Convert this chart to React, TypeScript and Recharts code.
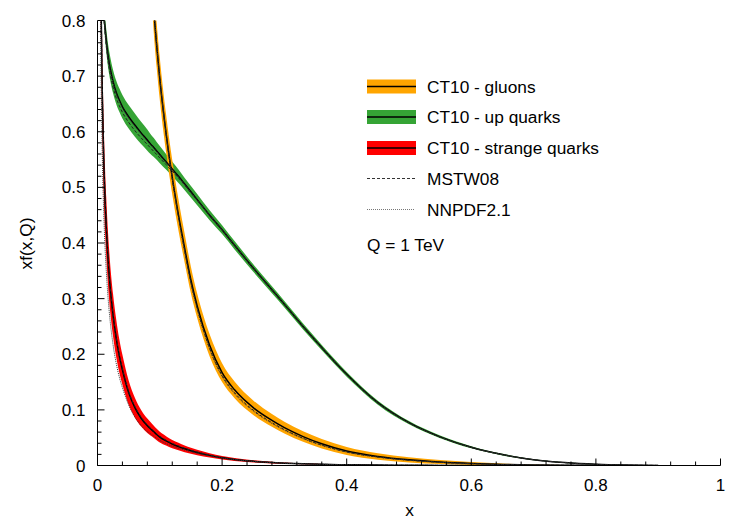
import React from 'react'
import { Area, ComposedChart, Line, XAxis, YAxis } from 'recharts'

// shared x grid
const xGrid = [
  0.004, 0.005, 0.006, 0.007, 0.008, 0.01, 0.012, 0.014, 0.016, 0.018,
  0.02, 0.025, 0.03, 0.035, 0.04, 0.05, 0.06, 0.07, 0.08, 0.085,
  0.09, 0.095, 0.1, 0.11, 0.12, 0.13, 0.14, 0.15, 0.16, 0.18,
  0.2, 0.22, 0.25, 0.28, 0.3, 0.33, 0.36, 0.4, 0.45, 0.5,
  0.55, 0.6, 0.65, 0.7, 0.75, 0.8, 0.85, 0.9,
]

const N = null

// gluons
const gluonCT10 = [
  N, N, N, N, N, N, N, N, N, N,
  N, N, N, N, N, N, N, N, N, 0.92,
  0.825, 0.755, 0.695, 0.598, 0.518, 0.45, 0.39, 0.333, 0.287, 0.216,
  0.167, 0.136, 0.104, 0.081, 0.068, 0.052, 0.039, 0.026, 0.0163, 0.0102,
  0.0062, 0.0036, 0.002, 0.001, 0.0005, 0.0002, N, N,
]
const gluonErr = [
  N, N, N, N, N, N, N, N, N, N,
  N, N, N, N, N, N, N, N, N, 0.045,
  0.042, 0.04, 0.038, 0.034, 0.031, 0.028, 0.026, 0.024, 0.022, 0.02,
  0.017, 0.015, 0.013, 0.0115, 0.0105, 0.0095, 0.0085, 0.0072, 0.0058, 0.0046,
  0.0035, 0.0026, 0.0017, 0.001, 0.0005, 0.0002, N, N,
]
const gluonMSTW = [
  N, N, N, N, N, N, N, N, N, N,
  N, N, N, N, N, N, N, N, N, 0.92,
  0.826, 0.756, 0.695, 0.597, 0.516, 0.447, 0.386, 0.329, 0.283, 0.211,
  0.162, 0.131, 0.0995, 0.077, 0.0645, 0.049, 0.0366, 0.0243, 0.0152, 0.0095,
  0.0057, 0.0033, 0.0018, 0.0009, 0.0004, 0.0002, N, N,
]
const gluonNNPDF = [
  N, N, N, N, N, N, N, N, N, N,
  N, N, N, N, N, N, N, N, N, 0.925,
  0.83, 0.758, 0.697, 0.598, 0.516, 0.446, 0.384, 0.327, 0.281, 0.209,
  0.16, 0.129, 0.098, 0.0757, 0.0635, 0.0483, 0.0362, 0.0241, 0.0151, 0.0094,
  0.0057, 0.0033, 0.0018, 0.0009, 0.0004, 0.0002, N, N,
]

// up quarks
const upCT10 = [
  N, N, N, 0.87, 0.84, 0.815, 0.788, 0.765, 0.745, 0.729,
  0.716, 0.69, 0.671, 0.657, 0.645, 0.627, 0.612, 0.598, 0.585, 0.578,
  0.572, 0.5655, 0.559, 0.546, 0.533, 0.52, 0.506, 0.492, 0.478, 0.45,
  0.424, 0.396, 0.355, 0.316, 0.29, 0.25, 0.212, 0.164, 0.113, 0.077,
  0.0515, 0.0328, 0.0196, 0.0105, 0.0052, 0.0022, 0.0008, 0.0002,
]
const upErr = [
  N, N, N, 0.016, 0.017, 0.018, 0.019, 0.02, 0.021, 0.021,
  0.021, 0.021, 0.021, 0.021, 0.021, 0.021, 0.021, 0.02, 0.019, 0.018,
  0.017, 0.016, 0.0155, 0.014, 0.013, 0.012, 0.011, 0.0105, 0.01, 0.009,
  0.008, 0.0075, 0.0068, 0.0062, 0.0058, 0.0053, 0.0048, 0.0043, 0.0036, 0.003,
  0.0024, 0.0019, 0.0014, 0.0009, 0.0006, 0.0003, 0.0001, 0,
]
const upMSTW = [
  N, N, N, 0.861, 0.831, 0.805, 0.778, 0.755, 0.735, 0.719,
  0.706, 0.68, 0.661, 0.647, 0.635, 0.617, 0.602, 0.589, 0.577, 0.571,
  0.565, 0.559, 0.553, 0.541, 0.529, 0.517, 0.504, 0.49, 0.477, 0.449,
  0.423, 0.395, 0.354, 0.315, 0.289, 0.249, 0.211, 0.163, 0.112, 0.0765,
  0.0508, 0.0324, 0.0194, 0.0104, 0.0051, 0.0021, 0.0008, 0.0002,
]
const upNNPDF = [
  N, N, N, 0.868, 0.838, 0.812, 0.785, 0.762, 0.742, 0.726,
  0.713, 0.688, 0.669, 0.655, 0.643, 0.625, 0.61, 0.596, 0.583, 0.577,
  0.571, 0.5645, 0.558, 0.545, 0.532, 0.519, 0.505, 0.491, 0.477, 0.45,
  0.424, 0.396, 0.355, 0.316, 0.29, 0.25, 0.212, 0.164, 0.113, 0.077,
  0.0515, 0.0328, 0.0196, 0.0105, 0.0052, 0.0022, 0.0008, 0.0002,
]

// strange quarks
const strangeCT10 = [
  1.08, 0.93, 0.81, 0.72, 0.65, 0.55, 0.48, 0.43, 0.388, 0.353,
  0.324, 0.27, 0.229, 0.197, 0.172, 0.131, 0.104, 0.085, 0.0715, 0.066,
  0.061, 0.0558, 0.051, 0.0443, 0.0385, 0.034, 0.03, 0.0266, 0.0235, 0.0182,
  0.0138, 0.0108, 0.0075, 0.0053, 0.0042, 0.003, 0.0021, 0.0013, 0.0007, 0.0004,
  0.0002, 0.0001, N, N, N, N, N, N,
]
const strangeErr = [
  0.13, 0.11, 0.095, 0.086, 0.078, 0.066, 0.058, 0.053, 0.049, 0.046,
  0.043, 0.038, 0.034, 0.03, 0.027, 0.022, 0.018, 0.015, 0.013, 0.012,
  0.011, 0.0102, 0.0095, 0.0085, 0.0075, 0.0068, 0.006, 0.0055, 0.005, 0.004,
  0.0032, 0.0027, 0.002, 0.0015, 0.0012, 0.0009, 0.0007, 0.0005, 0.0003, 0.0002,
  0.0001, 0.0001, N, N, N, N, N, N,
]
const strangeMSTW = [
  1.1, 0.95, 0.83, 0.738, 0.665, 0.56, 0.488, 0.436, 0.392, 0.356,
  0.327, 0.272, 0.231, 0.199, 0.174, 0.133, 0.106, 0.087, 0.073, 0.0675,
  0.0625, 0.0572, 0.0525, 0.0457, 0.0398, 0.0352, 0.031, 0.0275, 0.0244, 0.019,
  0.0143, 0.0112, 0.0078, 0.0055, 0.0044, 0.0031, 0.0022, 0.0014, 0.0008, 0.0004,
  0.0002, 0.0001, N, N, N, N, N, N,
]
const strangeNNPDF = [
  0.92, 0.78, 0.68, 0.605, 0.54, 0.455, 0.395, 0.352, 0.316, 0.287,
  0.263, 0.217, 0.184, 0.159, 0.14, 0.109, 0.087, 0.072, 0.061, 0.057,
  0.053, 0.049, 0.045, 0.0395, 0.0348, 0.031, 0.0277, 0.0247, 0.022, 0.0173,
  0.0133, 0.0105, 0.0073, 0.0052, 0.0041, 0.0029, 0.0021, 0.0013, 0.0007, 0.0004,
  0.0002, 0.0001, N, N, N, N, N, N,
]

const xMajor = [0, 0.2, 0.4, 0.6, 0.8, 1]
const yMajor = [0, 0.1, 0.2, 0.3, 0.4, 0.5, 0.6, 0.7, 0.8]
const xTicks = Array.from({ length: 26 }, (_, i) => Math.round(i * 4) / 100)
const yTicks = Array.from({ length: 41 }, (_, i) => Math.round(i * 2) / 100)

const band = (c: (number | null)[], e: (number | null)[], i: number) =>
  c[i] == null || e[i] == null ? undefined : [c[i]! - e[i]!, c[i]! + e[i]!]

const data = xGrid.map((x, i) => ({
  x,
  gBand: band(gluonCT10, gluonErr, i),
  gC: gluonCT10[i] ?? undefined,
  gM: gluonMSTW[i] ?? undefined,
  gN: gluonNNPDF[i] ?? undefined,
  uBand: band(upCT10, upErr, i),
  uC: upCT10[i] ?? undefined,
  uM: upMSTW[i] ?? undefined,
  uN: upNNPDF[i] ?? undefined,
  sBand: band(strangeCT10, strangeErr, i),
  sC: strangeCT10[i] ?? undefined,
  sM: strangeMSTW[i] ?? undefined,
  sN: strangeNNPDF[i] ?? undefined,
}))

const ORANGE = '#ffa500'
const GREEN = '#35a435'
const RED = '#ff0000'
const FONT = '"Liberation Sans", Arial, Helvetica, sans-serif'

type Side = 'bottom' | 'top' | 'left' | 'right'

const makeTick = (side: Side, majors: number[], labels: boolean) => (props: any) => {
  const { x, y, payload } = props
  const v = payload.value
  const major = majors.some((m) => Math.abs(m - v) < 1e-9)
  const len = major ? 7 : 4
  let l = { x1: x, y1: y, x2: x, y2: y }
  if (side === 'bottom') l = { x1: x, y1: y, x2: x, y2: y - len }
  if (side === 'top') l = { x1: x, y1: y, x2: x, y2: y + len }
  if (side === 'left') l = { x1: x, y1: y, x2: x + len, y2: y }
  if (side === 'right') l = { x1: x, y1: y, x2: x - len, y2: y }
  return (
    <g>
      <line {...l} stroke="#000" strokeWidth={1} />
      {labels && major && side === 'bottom' && (
        <text x={x} y={y + 25} textAnchor="middle" fontSize={17} fontFamily={FONT} fill="#000">
          {String(v)}
        </text>
      )}
      {labels && major && side === 'left' && (
        <text x={x - 12} y={y + 6} textAnchor="end" fontSize={17} fontFamily={FONT} fill="#000">
          {String(v)}
        </text>
      )}
    </g>
  )
}

const legendRows = [
  { label: 'CT10 - gluons', color: ORANGE, y: 86.5 },
  { label: 'CT10 - up quarks', color: GREEN, y: 117 },
  { label: 'CT10 - strange quarks', color: RED, y: 148 },
]

function Overlay() {
  return (
    <svg width={747} height={523} style={{ position: 'absolute', left: 0, top: 0, pointerEvents: 'none' }}>
      <g fontFamily={FONT} fontSize={17.3} fill="#000">
        {legendRows.map((r) => (
          <g key={r.label}>
            <rect x={367} y={r.y - 7} width={49} height={14} fill={r.color} />
            <line x1={367} x2={416} y1={r.y} y2={r.y} stroke="#000" strokeWidth={1.5} />
            <text x={427} y={r.y + 6}>{r.label}</text>
          </g>
        ))}
        <line x1={367} x2={415} y1={178.5} y2={178.5} stroke="#333" strokeWidth={1} strokeDasharray="3 2" />
        <text x={427} y={184.5}>MSTW08</text>
        <line x1={367} x2={415} y1={209.5} y2={209.5} stroke="#777" strokeWidth={1} strokeDasharray="1 1" />
        <text x={427} y={215.5}>NNPDF2.1</text>
        <text x={367} y={251}>Q = 1 TeV</text>
        <text x={409.5} y={516} textAnchor="middle">x</text>
        <text x={26} y={243.5} textAnchor="middle" dominantBaseline="central" transform="rotate(-90 26 243.5)">
          xf(x,Q)
        </text>
      </g>
    </svg>
  )
}

export default function App() {
  return (
    <div style={{ position: 'absolute', left: 0, top: 0, width: 747, height: 523, background: '#fff' }}>
      <ComposedChart
        width={747}
        height={523}
        data={data}
        margin={{ top: 20.5, right: 26.5, bottom: 17.5, left: 37.5 }}
      >
        <XAxis
          dataKey="x"
          type="number"
          domain={[0, 1]}
          allowDataOverflow
          ticks={xTicks}
          interval={0}
          height={40}
          tickSize={0}
          tickMargin={0}
          tickLine={false}
          axisLine={{ stroke: '#000' }}
          tick={makeTick('bottom', xMajor, true)}
        />
        <XAxis
          xAxisId="top"
          orientation="top"
          dataKey="x"
          type="number"
          domain={[0, 1]}
          allowDataOverflow
          ticks={xTicks}
          interval={0}
          height={0}
          tickSize={0}
          tickMargin={0}
          tickLine={false}
          axisLine={{ stroke: '#000' }}
          tick={makeTick('top', xMajor, false)}
        />
        <YAxis
          type="number"
          domain={[0, 0.8]}
          allowDataOverflow
          ticks={yTicks}
          interval={0}
          width={60}
          tickSize={0}
          tickMargin={0}
          tickLine={false}
          axisLine={{ stroke: '#000' }}
          tick={makeTick('left', yMajor, true)}
        />
        <YAxis
          yAxisId="right"
          orientation="right"
          type="number"
          domain={[0, 0.8]}
          allowDataOverflow
          ticks={yTicks}
          interval={0}
          width={0}
          tickSize={0}
          tickMargin={0}
          tickLine={false}
          axisLine={{ stroke: '#000' }}
          tick={makeTick('right', yMajor, false)}
        />

        <Area dataKey="uBand" type="monotone" fill={GREEN} fillOpacity={1} stroke="none" dot={false} activeDot={false} isAnimationActive={false} />
        <Area dataKey="gBand" type="monotone" fill={ORANGE} fillOpacity={1} stroke="none" dot={false} activeDot={false} isAnimationActive={false} />
        <Area dataKey="sBand" type="monotone" fill={RED} fillOpacity={1} stroke="none" dot={false} activeDot={false} isAnimationActive={false} />

        <Line dataKey="uC" type="monotone" stroke="#000" strokeWidth={1.5} dot={false} activeDot={false} isAnimationActive={false} />
        <Line dataKey="gC" type="monotone" stroke="#000" strokeWidth={1.5} dot={false} activeDot={false} isAnimationActive={false} />
        <Line dataKey="sC" type="monotone" stroke="#000" strokeWidth={1.5} dot={false} activeDot={false} isAnimationActive={false} />

        <Line dataKey="uM" type="monotone" stroke="#222" strokeWidth={1} strokeDasharray="3 2" dot={false} activeDot={false} isAnimationActive={false} />
        <Line dataKey="gM" type="monotone" stroke="#222" strokeWidth={1} strokeDasharray="3 2" dot={false} activeDot={false} isAnimationActive={false} />
        <Line dataKey="sM" type="monotone" stroke="#222" strokeWidth={1} strokeDasharray="3 2" dot={false} activeDot={false} isAnimationActive={false} />

        <Line dataKey="uN" type="monotone" stroke="#333" strokeWidth={1} strokeDasharray="1 1" dot={false} activeDot={false} isAnimationActive={false} />
        <Line dataKey="gN" type="monotone" stroke="#333" strokeWidth={1} strokeDasharray="1 1" dot={false} activeDot={false} isAnimationActive={false} />
        <Line dataKey="sN" type="monotone" stroke="#333" strokeWidth={1} strokeDasharray="1 1" dot={false} activeDot={false} isAnimationActive={false} />
      </ComposedChart>
      <Overlay />
    </div>
  )
}
